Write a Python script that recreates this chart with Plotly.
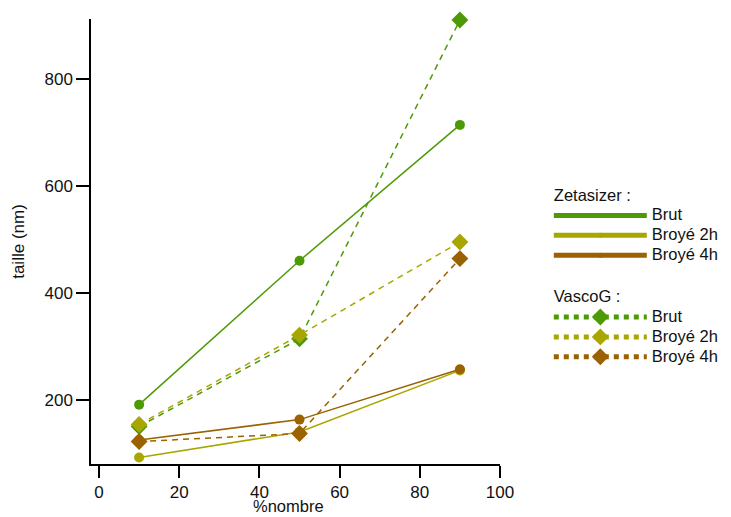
import plotly.graph_objects as go

x_vals = [10, 50, 90]

zeta_brut = [191, 460, 714]
zeta_2h = [92, 140, 255]
zeta_4h = [125, 163, 257]

vasco_brut = [150, 314, 910]
vasco_2h = [154, 321, 495]
vasco_4h = [122, 137, 464]

series_names = ["Brut", "Broyé 2h", "Broyé 4h"]
colors = ["#4e9a06", "#a8a600", "#9a6200"]

FONT = "Liberation Sans, Arial, Helvetica, sans-serif"
LEG_FS = 16.5


def big(t):
    return '<span style="font-size:%spx">%s</span>' % (LEG_FS, t)


fig = go.Figure()

zeta = [zeta_brut, zeta_2h, zeta_4h]
vasco = [vasco_brut, vasco_2h, vasco_4h]

# plotted data
for ys, c in zip(zeta, colors):
    fig.add_trace(go.Scatter(x=x_vals, y=ys, mode="lines+markers",
                             line=dict(color=c, width=1.5),
                             marker=dict(symbol="circle", size=10, color=c),
                             cliponaxis=False, showlegend=False, hoverinfo="x+y"))
for ys, c in zip(vasco, colors):
    fig.add_trace(go.Scatter(x=x_vals, y=ys, mode="lines+markers",
                             line=dict(color=c, width=1.5, dash="6px,5px"),
                             marker=dict(symbol="diamond", size=13, color=c),
                             cliponaxis=False, showlegend=False, hoverinfo="x+y"))

# legend entries
for i, (n, c) in enumerate(zip(series_names, colors)):
    fig.add_trace(go.Scatter(x=[None], y=[None], mode="lines+markers", name=big(n),
                             line=dict(color=c, width=5),
                             marker=dict(symbol="circle", size=5, color=c),
                             legendgroup="zeta",
                             legendgrouptitle=dict(text=big("Zetasizer :")) if i == 0 else None))
for i, (n, c) in enumerate(zip(series_names, colors)):
    fig.add_trace(go.Scatter(x=[None], y=[None], mode="lines+markers", name=big(n),
                             line=dict(color=c, width=5, dash="dot"),
                             marker=dict(symbol="diamond", size=13, color=c),
                             legendgroup="vasco",
                             legendgrouptitle=dict(text=big("VascoG :")) if i == 0 else None))

fig.add_annotation(text="%nombre", xref="paper", yref="paper", x=0.484, y=-0.095,
                   xanchor="center", yanchor="middle", showarrow=False,
                   font=dict(size=16.5), borderpad=0)

fig.update_layout(
    width=723, height=509,
    paper_bgcolor="white", plot_bgcolor="white",
    margin=dict(l=83, r=231, t=11, b=53),
    font=dict(family=FONT, size=17, color="#111"),
    legend=dict(xref="container", yref="container", x=0.748, y=0.661,
                xanchor="left", yanchor="top", itemwidth=93,
                tracegroupgap=22, font=dict(size=13),
                grouptitlefont=dict(size=13), bgcolor="rgba(0,0,0,0)"),
    xaxis=dict(range=[-2, 100], tickvals=[0, 20, 40, 60, 80, 100],
               showgrid=False, zeroline=False, showline=True, linecolor="black",
               linewidth=1.5, ticks="outside", ticklen=12, tickwidth=1.5,
               tickcolor="black", tickfont=dict(size=17), ticklabelstandoff=0,
               automargin=False),
    yaxis=dict(range=[80, 912], tickvals=[200, 400, 600, 800],
               showgrid=False, zeroline=False, showline=True, linecolor="black",
               linewidth=1.5, ticks="outside", ticklen=13, tickwidth=1.5,
               tickcolor="black", tickfont=dict(size=17), automargin=False,
               title=dict(text="taille (nm)", font=dict(size=17), standoff=16)),
)

fig.write_html("out.html")
